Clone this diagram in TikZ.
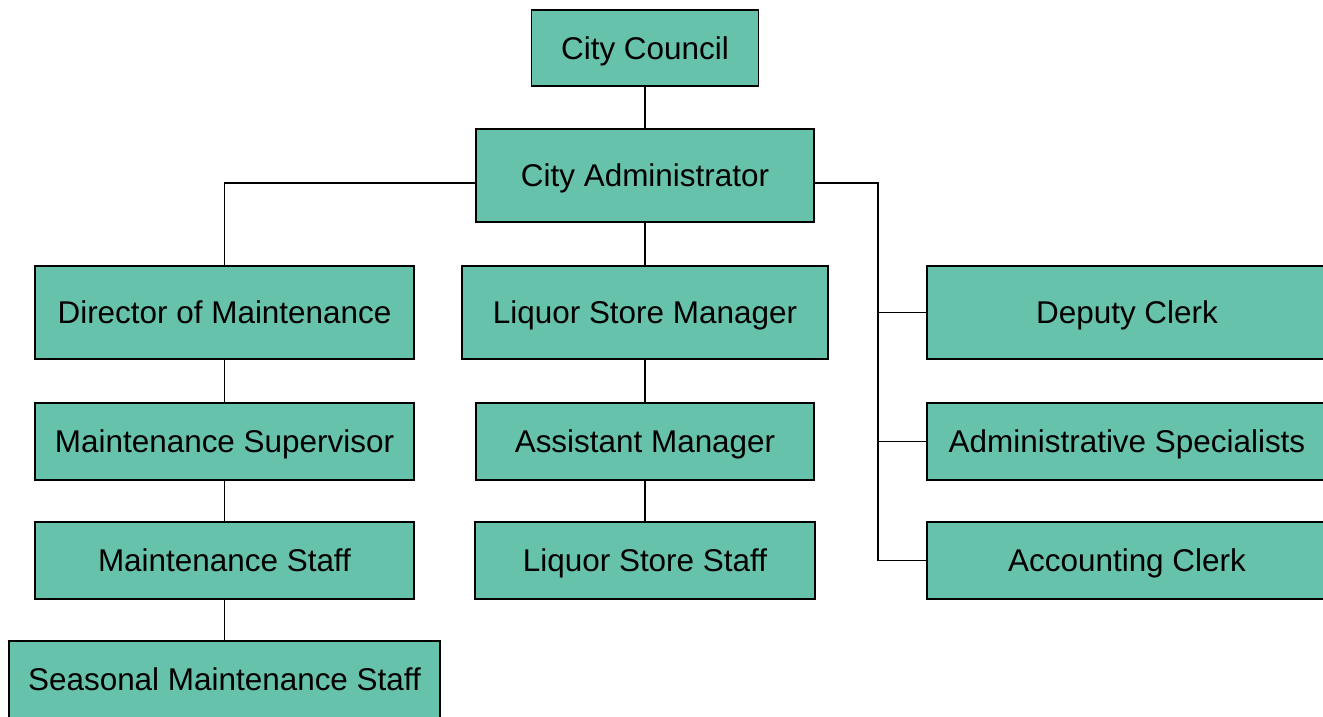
\documentclass[tikz,border=0pt]{standalone}
\usepackage{fontspec}
\setmainfont{Liberation Sans}
\definecolor{boxgreen}{HTML}{67C2AB}

\begin{document}
\begin{tikzpicture}[x=0.02cm,y=-0.02cm,line width=1.1pt,
  box/.style={rectangle,draw=black,fill=boxgreen,inner sep=0pt,outer sep=0pt,
    text height=12.9pt,text depth=0pt,font=\fontsize{17.9}{21}\selectfont},
  wide/.style={box,minimum width=7.58cm,minimum height=1.54cm}]

\useasboundingbox (0,0) rectangle (1323,717);
\clip (0,0) rectangle (1323,717);

% top of the chart
\node[box,minimum width=4.54cm,minimum height=1.52cm] (council) at (645,48) {City Council};
\node[box,minimum width=6.76cm,minimum height=1.86cm] (admin) at (645,175.5) {City Administrator};

% left column
\node[box,minimum width=7.58cm,minimum height=1.86cm] (dirm) at (224.5,312.5) {Director of Maintenance};
\node[wide] (super) at (224.5,441.5) {Maintenance Supervisor};
\node[wide] (mstaff) at (224.5,560.5) {Maintenance Staff};
\node[box,minimum width=8.62cm,minimum height=1.54cm] (season) at (224.5,679.5) {Seasonal Maintenance Staff};

% middle column
\node[box,minimum width=7.32cm,minimum height=1.86cm] (lsm) at (645,312.5) {Liquor Store Manager};
\node[box,minimum width=6.76cm,minimum height=1.54cm] (asst) at (645,441.5) {Assistant Manager};
\node[box,minimum width=6.80cm,minimum height=1.54cm] (lsstaff) at (645,560.5) {Liquor Store Staff};

% right column
\node[box,minimum width=8cm,minimum height=1.86cm] (deputy) at (1127,312.5) {Deputy Clerk};
\node[box,minimum width=8cm,minimum height=1.54cm] (spec) at (1127,441.5) {Administrative Specialists};
\node[box,minimum width=8cm,minimum height=1.54cm] (acct) at (1127,560.5) {Accounting Clerk};

\coordinate (adminL) at (476,183);
\coordinate (adminR) at (814,183);
\coordinate (bus) at (878,183);

\draw (council.south) -- (admin.north);
\draw (adminL) -| (dirm.north);
\draw (admin.south) -- (lsm.north);
\draw (adminR) -- (bus) |- (acct.west);
\draw (bus |- deputy.west) -- (deputy.west);
\draw (bus |- spec.west) -- (spec.west);

\draw (dirm.south) -- (super.north);
\draw (super.south) -- (mstaff.north);
\draw (mstaff.south) -- (season.north);
\draw (lsm.south) -- (asst.north);
\draw (asst.south) -- (lsstaff.north);
\end{tikzpicture}
\end{document}
